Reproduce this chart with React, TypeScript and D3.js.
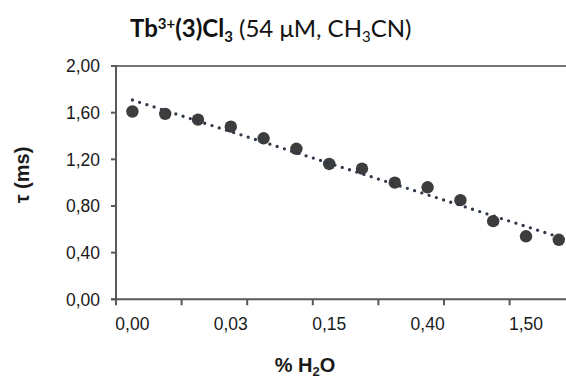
import { useEffect, useRef } from "react"
import * as d3 from "d3"

// % H2O categories (only every third one is labelled on the axis)
const waterPct = ["0,00", "0,01", "0,02", "0,03", "0,05", "0,10", "0,15", "0,20", "0,30", "0,40", "0,60", "1,00", "1,50", "2,00"]
// luminescence lifetime tau (ms)
const lifetimes = [1.61, 1.59, 1.54, 1.48, 1.38, 1.29, 1.16, 1.12, 1.0, 0.96, 0.85, 0.67, 0.54, 0.51]
const yTicks = [0, 0.4, 0.8, 1.2, 1.6, 2.0]

const LABEL_EVERY = 3
const TICK_EVERY = 2

export default function App() {
  const svgRef = useRef<SVGSVGElement>(null)

  useEffect(() => {
    if (!svgRef.current) return
    const width = 566
    const height = 378
    const left = 116
    const right = 575.2
    const top = 66
    const bottom = 299.3
    const axisFont = "'Liberation Sans', Arial, sans-serif"
    const comma = (v: number) => d3.format(".2f")(v).replace(".", ",")

    const svg = d3.select(svgRef.current).attr("width", width).attr("height", height)
    svg.selectAll("*").remove()

    const x = d3.scaleBand<number>().domain(d3.range(waterPct.length)).range([left, right]).padding(0)
    const y = d3.scaleLinear().domain([0, 2]).range([bottom, top])
    const cx = (i: number) => (x(i) as number) + x.bandwidth() / 2

    // top border line at max
    svg.append("line")
      .attr("x1", left).attr("x2", width)
      .attr("y1", y(2)).attr("y2", y(2))
      .attr("stroke", "#767676").attr("stroke-width", 2)

    // y axis
    svg.append("line")
      .attr("x1", left).attr("x2", left)
      .attr("y1", y(2) - 1).attr("y2", bottom)
      .attr("stroke", "#595959").attr("stroke-width", 2)
    yTicks.forEach((t) => {
      svg.append("line")
        .attr("x1", left - 5).attr("x2", left)
        .attr("y1", y(t)).attr("y2", y(t))
        .attr("stroke", "#595959").attr("stroke-width", 2)
      svg.append("text")
        .attr("x", 100).attr("y", y(t) + 6.3)
        .attr("text-anchor", "end")
        .attr("font-family", axisFont).attr("font-size", 17.5).attr("fill", "#1a1a1a")
        .text(comma(t))
    })

    // x axis
    svg.append("line")
      .attr("x1", left - 5).attr("x2", width)
      .attr("y1", bottom).attr("y2", bottom)
      .attr("stroke", "#595959").attr("stroke-width", 2)
    d3.range(0, waterPct.length + 1, TICK_EVERY).forEach((i) => {
      const xt = i < waterPct.length ? (x(i) as number) : right
      svg.append("line")
        .attr("x1", xt).attr("x2", xt)
        .attr("y1", bottom).attr("y2", bottom + 6)
        .attr("stroke", "#595959").attr("stroke-width", 2)
    })
    waterPct.forEach((lab, i) => {
      if (i % LABEL_EVERY !== 0) return
      svg.append("text")
        .attr("x", cx(i)).attr("y", 329.5)
        .attr("text-anchor", "middle")
        .attr("font-family", axisFont).attr("font-size", 17.5).attr("fill", "#1a1a1a")
        .text(lab)
    })

    // linear trendline (least squares over category index)
    const idx = d3.range(lifetimes.length)
    const mx = d3.mean(idx) as number
    const my = d3.mean(lifetimes) as number
    const slope =
      d3.sum(idx, (i) => (i - mx) * (lifetimes[i] - my)) / d3.sum(idx, (i) => (i - mx) ** 2)
    const icpt = my - slope * mx
    const trend = [0, lifetimes.length - 1].map((i) => ({ i, v: icpt + slope * i }))
    const line = d3.line<{ i: number; v: number }>().x((d) => cx(d.i)).y((d) => y(d.v))

    svg.selectAll(".dot")
      .data(lifetimes)
      .enter()
      .append("circle")
      .attr("cx", (_, i) => cx(i))
      .attr("cy", (d) => y(d))
      .attr("r", 6.2)
      .attr("fill", "#3d3d3d")

    svg.append("path").datum(trend)
      .attr("d", line)
      .attr("fill", "none")
      .attr("stroke", "#2e3a48").attr("stroke-width", 3.3)
      .attr("stroke-linecap", "round")
      .attr("stroke-dasharray", "0 7.6")

    // axis titles
    svg.append("text")
      .attr("transform", "translate(29,175) rotate(-90)")
      .attr("text-anchor", "middle")
      .attr("font-family", axisFont).attr("font-size", 20).attr("font-weight", "bold").attr("fill", "#1a1a1a")
      .text("τ (ms)")

    const xt = svg.append("text")
      .attr("x", 305).attr("y", 372)
      .attr("text-anchor", "middle")
      .attr("font-family", axisFont).attr("font-size", 20).attr("font-weight", "bold").attr("fill", "#1a1a1a")
    xt.append("tspan").text("% H")
    xt.append("tspan").attr("font-size", 13).attr("dy", 4).text("2")
    xt.append("tspan").attr("dy", -4).text("O")

    // title
    const title = svg.append("text")
      .attr("x", 130).attr("y", 37)
      .attr("font-family", "Lato, 'Open Sans', sans-serif").attr("font-size", 24).attr("fill", "#111")
    title.append("tspan").attr("font-weight", "bold").text("Tb")
    title.append("tspan").attr("font-weight", "bold").attr("font-size", 15).attr("dy", -8).text("3+")
    title.append("tspan").attr("font-weight", "bold").attr("dy", 8).text("(3)Cl")
    title.append("tspan").attr("font-weight", "bold").attr("font-size", 15).attr("dy", 5).text("3")
    title.append("tspan").attr("dy", -5).text("\u00a0(54 μM, CH")
    title.append("tspan").attr("font-size", 15).attr("dy", 5).text("3")
    title.append("tspan").attr("dy", -5).text("CN)")
  }, [])

  return <svg ref={svgRef} style={{ position: "absolute", left: 0, top: 0 }} />
}
